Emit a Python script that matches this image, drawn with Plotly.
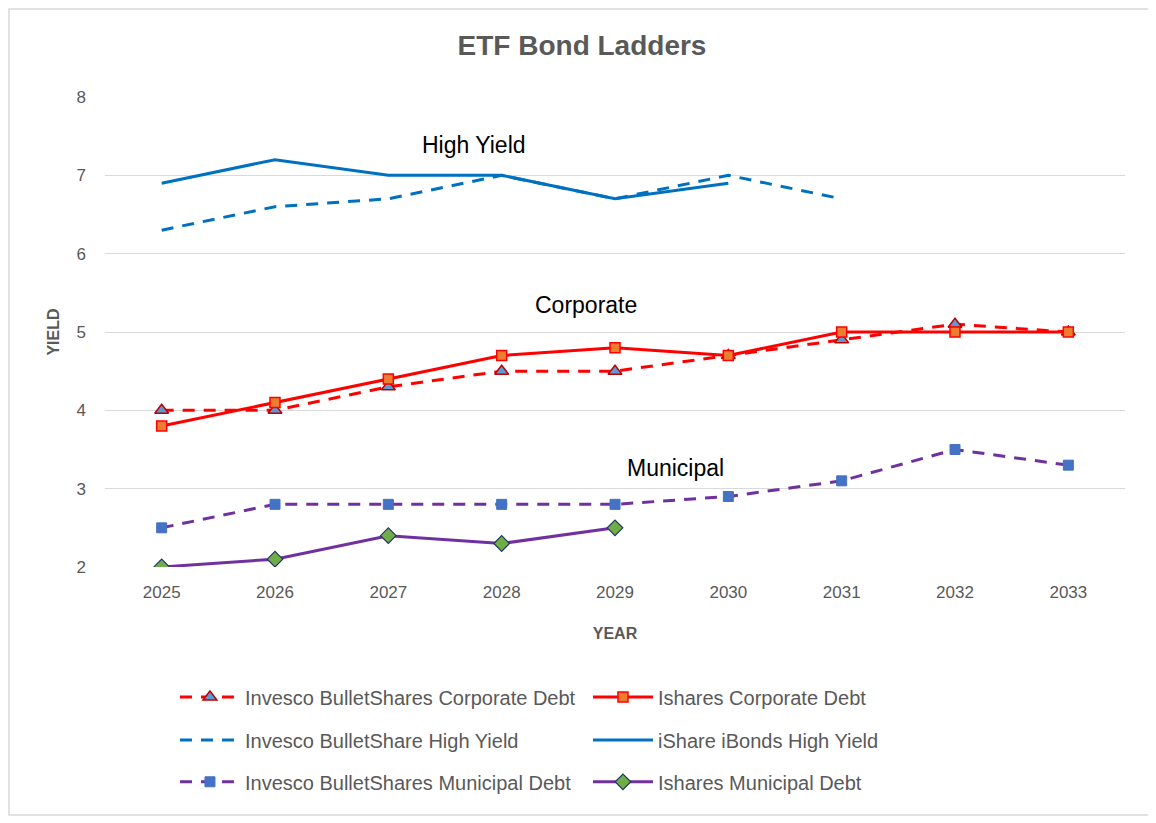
import plotly.graph_objects as go

years = ["2025", "2026", "2027", "2028", "2029", "2030", "2031", "2032", "2033"]

invesco_corp = [4.0, 4.0, 4.3, 4.5, 4.5, 4.7, 4.9, 5.1, 5.0]
ishares_corp = [3.8, 4.1, 4.4, 4.7, 4.8, 4.7, 5.0, 5.0, 5.0]
invesco_hy = [6.3, 6.6, 6.7, 7.0, 6.7, 7.0, 6.7]
ishare_hy = [6.9, 7.2, 7.0, 7.0, 6.7, 6.9]
invesco_muni = [2.5, 2.8, 2.8, 2.8, 2.8, 2.9, 3.1, 3.5, 3.3]
ishares_muni = [2.0, 2.1, 2.4, 2.3, 2.5]

group_labels = ["High Yield", "Corporate", "Municipal"]
label_x = [2.76, 3.74, 4.53]
label_y = [7.39, 5.35, 3.27]

RED = "#FF0000"
BLUE = "#0070C0"
PURPLE = "#7030A0"
DASH = "12px,9px"

fig = go.Figure()
fig.add_trace(go.Scatter(
    x=years[:len(invesco_corp)], y=invesco_corp, name="Invesco BulletShares Corporate Debt",
    mode="lines+markers", line=dict(color=RED, width=3, dash=DASH), legend="legend",
    marker=dict(symbol="triangle-up", size=12, color="#5B9BD5", line=dict(color="#C00000", width=1.5))))
fig.add_trace(go.Scatter(
    x=years[:len(ishares_corp)], y=ishares_corp, name="Ishares Corporate Debt",
    mode="lines+markers", line=dict(color=RED, width=3), legend="legend",
    marker=dict(symbol="square", size=10, color="#ED7D31", line=dict(color=RED, width=1.5))))
fig.add_trace(go.Scatter(
    x=years[:len(invesco_hy)], y=invesco_hy, name="Invesco BulletShare High Yield",
    mode="lines", line=dict(color=BLUE, width=3, dash=DASH), legend="legend2"))
fig.add_trace(go.Scatter(
    x=years[:len(ishare_hy)], y=ishare_hy, name="iShare iBonds High Yield",
    mode="lines", line=dict(color=BLUE, width=3), legend="legend2"))
fig.add_trace(go.Scatter(
    x=years[:len(invesco_muni)], y=invesco_muni, name="Invesco BulletShares Municipal Debt",
    mode="lines+markers", line=dict(color=PURPLE, width=3, dash=DASH), legend="legend3",
    marker=dict(symbol="square", size=10, color="#4472C4", line=dict(color="#4472C4", width=1))))
fig.add_trace(go.Scatter(
    x=years[:len(ishares_muni)], y=ishares_muni, name="Ishares Municipal Debt",
    mode="lines+markers", line=dict(color=PURPLE, width=3), legend="legend3",
    marker=dict(symbol="diamond", size=12, color="#70AD47", line=dict(color="#1F3864", width=1.2))))

for text, xv, yv in zip(group_labels, label_x, label_y):
    fig.add_annotation(x=xv, y=yv, xref="x", yref="y", text=text, showarrow=False,
                       xanchor="center", yanchor="middle",
                       font=dict(size=23, color="#000000"))

fig.add_shape(type="rect", xref="paper", yref="paper",
              x0=-0.0941, x1=1.0245, y0=-0.5277, y1=1.187,
              line=dict(color="#D9D9D9", width=1.5))

leg_common = dict(orientation="h", x=0.0686, xanchor="left", yanchor="middle",
                  entrywidth=338, entrywidthmode="pixels", itemwidth=60,
                  font=dict(size=20, color="#595959"), bgcolor="rgba(0,0,0,0)")

fig.update_layout(
    width=1148, height=815,
    margin=dict(l=97, r=31, t=89, b=256),
    paper_bgcolor="white", plot_bgcolor="white",
    font=dict(family="Liberation Sans, Arial, sans-serif", color="#595959"),
    title=dict(text="<b>ETF Bond Ladders</b>", x=0.5, xref="container", xanchor="center",
               y=1 - 37 / 815, yanchor="middle", font=dict(size=28, color="#595959")),
    xaxis=dict(type="category", range=[-0.5, 8.5], showgrid=False, showline=False,
               ticks="", tickfont=dict(size=17, color="#595959"), ticklabelstandoff=13,
               title=dict(text="<b>YEAR</b>", font=dict(size=16, color="#595959"), standoff=26)),
    yaxis=dict(range=[2, 8], dtick=1, showgrid=True, gridcolor="#D9D9D9", gridwidth=1.2,
               zeroline=False, showline=False, ticks="", tickfont=dict(size=17, color="#595959"),
               ticklabelstandoff=18,
               title=dict(text="<b>YIELD</b>", font=dict(size=16, color="#595959"), standoff=12)),
    legend=dict(y=-0.2766, **leg_common),
    legend2=dict(y=-0.368, **leg_common),
    legend3=dict(y=-0.457, **leg_common),
    showlegend=True,
)

fig.write_html("out.html")
